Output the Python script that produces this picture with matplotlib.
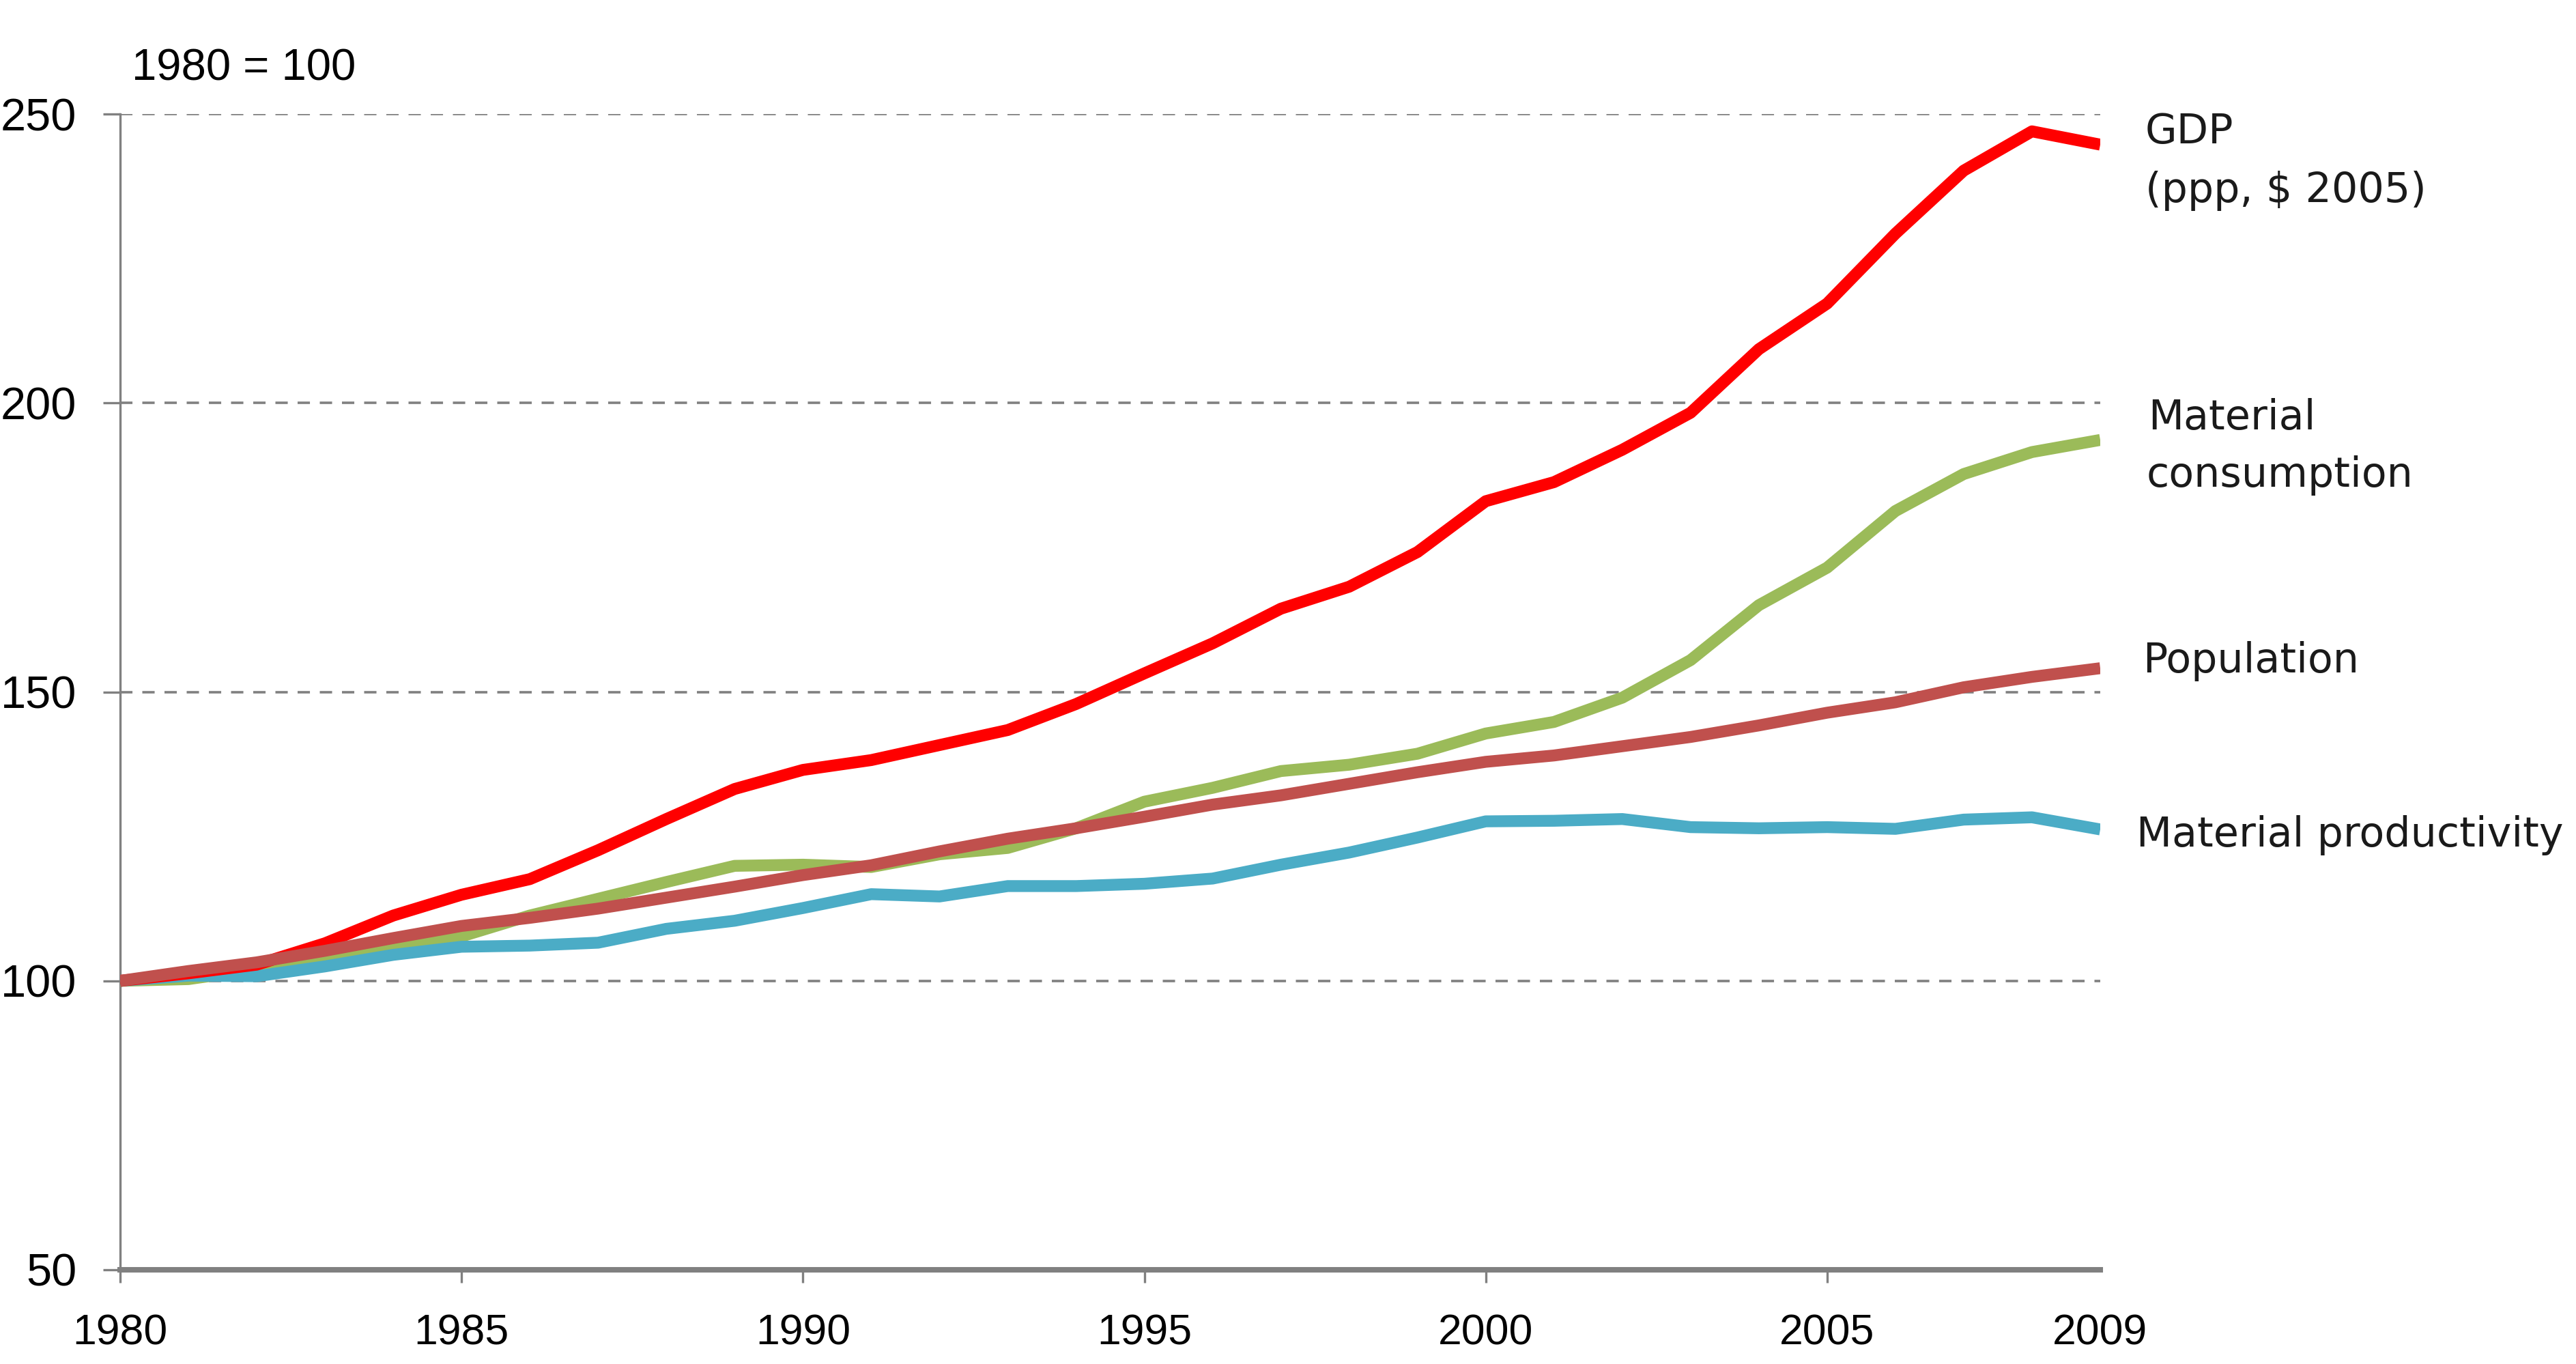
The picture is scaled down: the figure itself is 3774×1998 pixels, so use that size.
import matplotlib
matplotlib.use("Agg")
import matplotlib.pyplot as plt
from matplotlib import font_manager

##### Data (index, 1980 = 100)

years = list(range(1980, 2010))

gdp = [100, 101.3, 102.8, 106.5, 111.3, 114.9, 117.6, 122.6, 128.0, 133.2,
       136.5, 138.2, 140.8, 143.4, 147.9, 153.2, 158.4, 164.4, 168.2, 174.2,
       183.0, 186.3, 191.9, 198.3, 209.3, 217.2, 229.3, 240.2, 247.0, 244.7]

material_consumption = [100, 100.3, 102.0, 104.1, 106.1, 107.7, 111.3, 114.2, 117.1, 119.9,
                        120.1, 119.7, 121.9, 123.0, 126.4, 131.0, 133.4, 136.3, 137.4, 139.3,
                        142.8, 144.8, 149.0, 155.5, 165.0, 171.5, 181.3, 187.7, 191.5, 193.6]

population = [100, 101.7, 103.2, 105.2, 107.4, 109.5, 110.9, 112.5, 114.4, 116.3,
              118.3, 120.0, 122.4, 124.6, 126.4, 128.4, 130.5, 132.1, 134.1, 136.1,
              137.9, 139.0, 140.6, 142.2, 144.2, 146.4, 148.2, 150.8, 152.6, 154.1]

material_productivity = [100, 100.9, 100.8, 102.5, 104.5, 105.9, 106.1, 106.6, 109.0, 110.4,
                         112.6, 115.0, 114.6, 116.4, 116.4, 116.8, 117.7, 120.1, 122.2, 124.8,
                         127.6, 127.7, 128.0, 126.6, 126.4, 126.6, 126.3, 127.9, 128.3, 126.2]

x_ticks = [1980, 1985, 1990, 1995, 2000, 2005, 2009]
y_ticks = [50, 100, 150, 200, 250]

#### Fonts

def have_font(name):
    try:
        font_manager.findfont(name, fallback_to_default=False)
        return True
    except Exception:
        return False

narrow = "Liberation Sans Narrow" if have_font("Liberation Sans Narrow") else "Liberation Sans"
xsize = 54 if narrow == "Liberation Sans Narrow" else 45

#### Figure

W, H = 3774, 1998
fig = plt.figure(figsize=(W / 100, H / 100), dpi=100)
ax = fig.add_axes([176 / W, 1 - 1860 / H, (3077 - 176) / W, (1860 - 167) / H])

grey = "#808080"
lw = 12.5

ax.plot(years, material_consumption, color="#9BBB59", lw=lw, solid_capstyle="butt", zorder=3)
ax.plot(years, material_productivity, color="#4BACC6", lw=lw, solid_capstyle="butt", zorder=4)
ax.plot(years, gdp, color="#FF0000", lw=lw, solid_capstyle="butt", zorder=5)
ax.plot(years, population, color="#C0504D", lw=lw, solid_capstyle="butt", zorder=6)

ax.set_xlim(1980, 2009)
ax.set_ylim(50, 250)

ax.set_yticks(y_ticks)
ax.set_xticks(x_ticks)
ax.set_xticklabels([str(t) for t in x_ticks], fontfamily=narrow, fontsize=xsize)
ax.set_yticklabels([str(t) for t in y_ticks], fontfamily="Liberation Sans", fontsize=48)

ax.yaxis.grid(True, color=grey, linestyle=(0, (5, 4)), linewidth=2.6)
ax.set_axisbelow(True)

for s in ["top", "right"]:
    ax.spines[s].set_visible(False)
ax.spines["left"].set_color(grey)
ax.spines["left"].set_linewidth(2.4)
ax.spines["bottom"].set_color(grey)
ax.spines["bottom"].set_linewidth(5.8)

ax.tick_params(axis="y", length=18, width=2.4, color=grey, pad=28, labelcolor="black")
ax.tick_params(axis="x", length=14, width=2.4, color=grey, pad=32, labelcolor="black")
ax.xaxis.get_major_ticks()[-1].tick1line.set_visible(False)

#### Labels

def ftext(x, y, s, **kw):
    fig.text(x / W, 1 - y / H, s, va="baseline", ha="left", **kw)

ftext(193, 117, "1980 = 100", fontfamily="Liberation Sans", fontsize=47, color="black")

lab = dict(fontfamily="DejaVu Sans", fontsize=43.5, color="#1a1a1a")
ftext(3143, 210, "GDP", **lab)
ftext(3143, 296, "(ppp, $ 2005)", **lab)
ftext(3147, 629, "Material", **lab)
ftext(3145, 713, "consumption", **lab)
ftext(3139, 985, "Population", **lab)
ftext(3130, 1240, "Material productivity", **lab)

fig.savefig("out.png", dpi=100, facecolor="white")
